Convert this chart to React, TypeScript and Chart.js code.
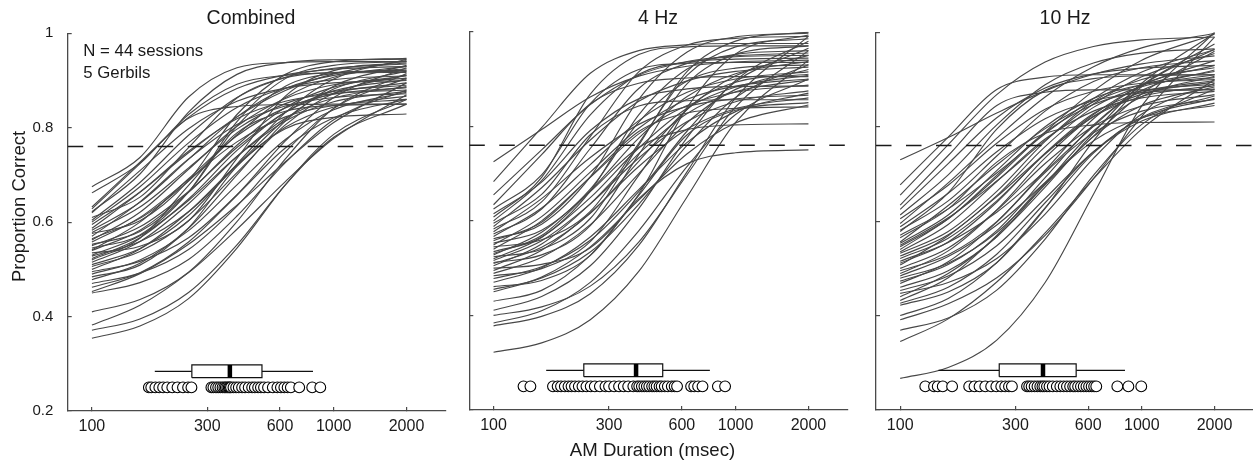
import React, { useEffect, useRef } from "react";
import { Chart, registerables } from "chart.js";

Chart.register(...registerables);

const FONT = "'Liberation Sans', Arial, Helvetica, sans-serif";
const TEXT_COLOR = "#1a1a1a";
const AXIS_COLOR = "#4a4a4a";
const CURVE_COLOR = "#484848";

// ---------- data ----------
const DURATIONS = [100, 158, 251, 398, 631, 1000, 2000]; // ms, sample points of each fitted curve
const X_TICKS = [100, 300, 600, 1000, 2000];
const Y_TICKS = [0.2, 0.4, 0.6, 0.8, 1];
const X_MIN = 79.4;
const X_MAX = 2900;
const Y_MIN = 0.2;
const Y_MAX = 1;
const CRITERION = 0.76;
const DOT_Y = 0.25;
const BOX_LO = 0.2705;
const BOX_HI = 0.2975;
const WHISKER_Y = 0.284;

const PANEL_TITLES = ["Combined", "4 Hz", "10 Hz"];
const X_TITLE = "AM Duration (msec)";
const Y_TITLE = "Proportion Correct";
const NOTE_LINES = ["N = 44 sessions", "5 Gerbils"];

// proportion correct at DURATIONS for each session
const COMBINED_CURVES = [
  [0.675, 0.737, 0.865, 0.927, 0.938, 0.94, 0.94],
  [0.662, 0.725, 0.828, 0.892, 0.911, 0.916, 0.917],
  [0.632, 0.727, 0.822, 0.883, 0.912, 0.924, 0.93],
  [0.628, 0.724, 0.82, 0.845, 0.849, 0.85, 0.85],
  [0.622, 0.702, 0.833, 0.913, 0.938, 0.944, 0.945],
  [0.62, 0.709, 0.798, 0.856, 0.884, 0.895, 0.9],
  [0.61, 0.653, 0.758, 0.863, 0.906, 0.917, 0.92],
  [0.604, 0.684, 0.784, 0.864, 0.907, 0.926, 0.935],
  [0.6, 0.675, 0.768, 0.843, 0.884, 0.902, 0.91],
  [0.595, 0.664, 0.75, 0.819, 0.856, 0.872, 0.88],
  [0.587, 0.663, 0.747, 0.823, 0.879, 0.914, 0.942],
  [0.583, 0.642, 0.733, 0.823, 0.883, 0.911, 0.925],
  [0.578, 0.632, 0.715, 0.797, 0.851, 0.877, 0.89],
  [0.576, 0.603, 0.688, 0.828, 0.913, 0.94, 0.947],
  [0.57, 0.643, 0.734, 0.807, 0.846, 0.864, 0.872],
  [0.565, 0.608, 0.687, 0.785, 0.864, 0.907, 0.93],
  [0.562, 0.621, 0.712, 0.803, 0.862, 0.891, 0.905],
  [0.558, 0.61, 0.69, 0.77, 0.823, 0.847, 0.86],
  [0.553, 0.58, 0.664, 0.804, 0.888, 0.915, 0.922],
  [0.55, 0.59, 0.665, 0.758, 0.833, 0.873, 0.895],
  [0.545, 0.573, 0.664, 0.813, 0.904, 0.932, 0.94],
  [0.541, 0.6, 0.692, 0.783, 0.842, 0.871, 0.885],
  [0.54, 0.583, 0.663, 0.763, 0.843, 0.886, 0.91],
  [0.535, 0.549, 0.603, 0.735, 0.867, 0.921, 0.937],
  [0.53, 0.571, 0.646, 0.739, 0.814, 0.855, 0.877],
  [0.528, 0.559, 0.622, 0.72, 0.818, 0.882, 0.92],
  [0.523, 0.567, 0.649, 0.752, 0.833, 0.878, 0.902],
  [0.52, 0.566, 0.678, 0.789, 0.835, 0.847, 0.85],
  [0.515, 0.559, 0.639, 0.739, 0.82, 0.863, 0.887],
  [0.51, 0.544, 0.614, 0.723, 0.832, 0.903, 0.945],
  [0.506, 0.538, 0.603, 0.705, 0.806, 0.873, 0.912],
  [0.5, 0.543, 0.622, 0.721, 0.801, 0.844, 0.867],
  [0.495, 0.517, 0.567, 0.658, 0.772, 0.864, 0.927],
  [0.49, 0.52, 0.582, 0.679, 0.775, 0.838, 0.875],
  [0.484, 0.509, 0.588, 0.718, 0.798, 0.822, 0.829],
  [0.478, 0.513, 0.587, 0.7, 0.814, 0.888, 0.932],
  [0.47, 0.492, 0.542, 0.634, 0.749, 0.841, 0.905],
  [0.462, 0.493, 0.558, 0.657, 0.757, 0.821, 0.86],
  [0.453, 0.491, 0.553, 0.636, 0.728, 0.811, 0.895],
  [0.45, 0.472, 0.521, 0.613, 0.726, 0.817, 0.88],
  [0.41, 0.436, 0.494, 0.601, 0.734, 0.841, 0.915],
  [0.382, 0.424, 0.493, 0.585, 0.686, 0.777, 0.87],
  [0.371, 0.395, 0.451, 0.552, 0.679, 0.78, 0.85],
  [0.354, 0.38, 0.438, 0.545, 0.679, 0.786, 0.86],
];

const HZ4_CURVES = [
  [0.725, 0.793, 0.862, 0.906, 0.927, 0.936, 0.94],
  [0.683, 0.797, 0.912, 0.96, 0.972, 0.975, 0.975],
  [0.655, 0.75, 0.846, 0.908, 0.937, 0.949, 0.955],
  [0.634, 0.74, 0.847, 0.891, 0.902, 0.905, 0.905],
  [0.625, 0.697, 0.848, 0.92, 0.933, 0.935, 0.935],
  [0.615, 0.682, 0.791, 0.858, 0.879, 0.884, 0.885],
  [0.608, 0.692, 0.868, 0.952, 0.968, 0.97, 0.97],
  [0.6, 0.685, 0.824, 0.91, 0.936, 0.942, 0.944],
  [0.595, 0.656, 0.782, 0.843, 0.854, 0.856, 0.856],
  [0.588, 0.67, 0.771, 0.853, 0.896, 0.916, 0.925],
  [0.583, 0.64, 0.778, 0.915, 0.972, 0.986, 0.99],
  [0.577, 0.647, 0.734, 0.804, 0.842, 0.858, 0.866],
  [0.572, 0.625, 0.753, 0.88, 0.933, 0.947, 0.95],
  [0.567, 0.627, 0.719, 0.812, 0.872, 0.9, 0.915],
  [0.562, 0.593, 0.693, 0.857, 0.957, 0.989, 0.997],
  [0.558, 0.597, 0.693, 0.789, 0.828, 0.838, 0.841],
  [0.553, 0.58, 0.667, 0.809, 0.896, 0.923, 0.93],
  [0.549, 0.609, 0.703, 0.796, 0.857, 0.885, 0.9],
  [0.545, 0.56, 0.62, 0.764, 0.908, 0.968, 0.985],
  [0.54, 0.6, 0.692, 0.784, 0.844, 0.872, 0.887],
  [0.535, 0.566, 0.663, 0.824, 0.921, 0.952, 0.96],
  [0.531, 0.569, 0.662, 0.755, 0.793, 0.803, 0.805],
  [0.528, 0.576, 0.664, 0.775, 0.863, 0.911, 0.937],
  [0.524, 0.54, 0.605, 0.76, 0.916, 0.98, 0.999],
  [0.52, 0.565, 0.649, 0.754, 0.838, 0.883, 0.908],
  [0.516, 0.558, 0.636, 0.733, 0.81, 0.852, 0.875],
  [0.512, 0.528, 0.59, 0.74, 0.89, 0.952, 0.97],
  [0.51, 0.544, 0.616, 0.726, 0.836, 0.907, 0.95],
  [0.505, 0.551, 0.636, 0.742, 0.827, 0.873, 0.898],
  [0.5, 0.508, 0.543, 0.656, 0.84, 0.953, 0.993],
  [0.495, 0.538, 0.617, 0.715, 0.794, 0.837, 0.86],
  [0.489, 0.523, 0.592, 0.7, 0.808, 0.878, 0.92],
  [0.484, 0.499, 0.556, 0.696, 0.836, 0.893, 0.91],
  [0.478, 0.503, 0.559, 0.662, 0.79, 0.894, 0.965],
  [0.47, 0.501, 0.566, 0.666, 0.766, 0.831, 0.87],
  [0.461, 0.474, 0.527, 0.654, 0.782, 0.834, 0.85],
  [0.455, 0.479, 0.534, 0.635, 0.76, 0.861, 0.93],
  [0.45, 0.481, 0.545, 0.644, 0.742, 0.807, 0.845],
  [0.43, 0.453, 0.527, 0.647, 0.721, 0.744, 0.75],
  [0.411, 0.44, 0.505, 0.626, 0.776, 0.897, 0.98],
  [0.4, 0.418, 0.462, 0.555, 0.698, 0.841, 0.96],
  [0.384, 0.41, 0.47, 0.579, 0.715, 0.825, 0.9],
  [0.378, 0.398, 0.446, 0.548, 0.704, 0.86, 0.99],
  [0.322, 0.342, 0.391, 0.493, 0.651, 0.808, 0.94],
];

const HZ10_CURVES = [
  [0.73, 0.777, 0.829, 0.876, 0.911, 0.933, 0.95],
  [0.677, 0.778, 0.879, 0.905, 0.91, 0.91, 0.91],
  [0.655, 0.762, 0.868, 0.937, 0.97, 0.984, 0.99],
  [0.634, 0.739, 0.845, 0.873, 0.878, 0.878, 0.878],
  [0.625, 0.722, 0.819, 0.882, 0.912, 0.924, 0.93],
  [0.613, 0.698, 0.804, 0.889, 0.935, 0.956, 0.965],
  [0.605, 0.676, 0.765, 0.837, 0.875, 0.892, 0.9],
  [0.595, 0.681, 0.776, 0.863, 0.927, 0.967, 0.998],
  [0.588, 0.659, 0.747, 0.817, 0.855, 0.872, 0.88],
  [0.581, 0.643, 0.738, 0.833, 0.896, 0.925, 0.94],
  [0.578, 0.66, 0.795, 0.877, 0.902, 0.908, 0.91],
  [0.57, 0.626, 0.702, 0.785, 0.86, 0.916, 0.963],
  [0.565, 0.626, 0.725, 0.786, 0.804, 0.809, 0.81],
  [0.556, 0.633, 0.719, 0.796, 0.853, 0.889, 0.917],
  [0.553, 0.613, 0.707, 0.8, 0.86, 0.889, 0.904],
  [0.549, 0.607, 0.685, 0.771, 0.848, 0.906, 0.955],
  [0.546, 0.605, 0.697, 0.788, 0.847, 0.876, 0.89],
  [0.54, 0.605, 0.693, 0.789, 0.876, 0.941, 0.996],
  [0.535, 0.593, 0.684, 0.774, 0.833, 0.861, 0.875],
  [0.532, 0.578, 0.663, 0.769, 0.854, 0.9, 0.925],
  [0.526, 0.571, 0.654, 0.758, 0.841, 0.885, 0.91],
  [0.521, 0.564, 0.643, 0.742, 0.821, 0.864, 0.887],
  [0.515, 0.555, 0.619, 0.706, 0.801, 0.888, 0.975],
  [0.511, 0.556, 0.64, 0.744, 0.828, 0.873, 0.898],
  [0.507, 0.569, 0.652, 0.743, 0.826, 0.888, 0.94],
  [0.5, 0.543, 0.623, 0.722, 0.801, 0.844, 0.868],
  [0.495, 0.529, 0.599, 0.708, 0.817, 0.888, 0.93],
  [0.489, 0.537, 0.624, 0.734, 0.822, 0.869, 0.895],
  [0.484, 0.525, 0.592, 0.682, 0.78, 0.87, 0.96],
  [0.479, 0.511, 0.576, 0.677, 0.779, 0.845, 0.884],
  [0.473, 0.508, 0.58, 0.692, 0.804, 0.877, 0.92],
  [0.468, 0.514, 0.598, 0.703, 0.787, 0.833, 0.858],
  [0.46, 0.495, 0.567, 0.679, 0.791, 0.864, 0.907],
  [0.453, 0.484, 0.548, 0.648, 0.747, 0.812, 0.85],
  [0.447, 0.47, 0.521, 0.615, 0.733, 0.827, 0.892],
  [0.44, 0.489, 0.567, 0.672, 0.787, 0.892, 0.998],
  [0.432, 0.48, 0.57, 0.681, 0.77, 0.819, 0.845],
  [0.426, 0.46, 0.53, 0.639, 0.747, 0.818, 0.86],
  [0.422, 0.45, 0.512, 0.627, 0.77, 0.885, 0.964],
  [0.4, 0.436, 0.512, 0.628, 0.744, 0.82, 0.865],
  [0.391, 0.425, 0.48, 0.57, 0.69, 0.822, 0.99],
  [0.369, 0.395, 0.454, 0.562, 0.697, 0.805, 0.88],
  [0.345, 0.393, 0.471, 0.575, 0.69, 0.795, 0.9],
  [0.267, 0.29, 0.348, 0.47, 0.657, 0.844, 1.0],
];

// threshold durations (ms) of each session
const COMBINED_THRESHOLDS = [
  172, 176, 183, 190, 197, 205, 215, 226, 238, 250, 258,
  312, 318, 326, 333, 340, 347, 353, 358, 363, 368, 372,
  376, 385, 395, 405, 418, 430, 445, 460, 472, 487, 500,
  515, 535, 560, 585, 605, 625, 645, 665, 720, 815, 880,
];
const HZ4_THRESHOLDS = [
  133, 142, 176, 184, 190, 197, 204, 210, 217, 225, 233,
  242, 252, 262, 275, 290, 300, 315, 330, 345, 360, 378,
  392, 400, 410, 420, 430, 440, 452, 462, 472, 485, 495,
  510, 525, 545, 560, 573, 655, 675, 700, 730, 845, 905,
];
const HZ10_THRESHOLDS = [
  127, 138, 143, 150, 164, 193, 203, 213, 225, 238, 250,
  262, 272, 282, 290, 335, 342, 350, 360, 370, 380, 388,
  395, 405, 415, 428, 445, 460, 475, 490, 505, 520, 530,
  545, 560, 575, 590, 605, 620, 635, 648, 792, 880, 995,
];

// whisker low, Q1, median, Q3, whisker high (ms)
const COMBINED_BOX = [182, 259, 372, 505, 821];
const HZ4_BOX = [165, 236, 388, 500, 783];
const HZ10_BOX = [144, 257, 390, 535, 852];

// ---------- layout (pixels) ----------
const CHART_W = 378.2;
const PANELS = [
  { curves: COMBINED_CURVES, thresholds: COMBINED_THRESHOLDS, box: COMBINED_BOX, left: 0, width: 452, axisW: 67.7, top: 33.3, bottom: 411, titleX: 251, yLabels: true },
  { curves: HZ4_CURVES, thresholds: HZ4_THRESHOLDS, box: HZ4_BOX, left: 452, width: 402, axisW: 17.3, top: 31.7, bottom: 410, titleX: 206, yLabels: false },
  { curves: HZ10_CURVES, thresholds: HZ10_THRESHOLDS, box: HZ10_BOX, left: 854, width: 406, axisW: 22, top: 32.3, bottom: 410, titleX: 211, yLabels: false },
];

type TextItem = { text: string; x: number; y: number; size: number; align: CanvasTextAlign; rotate?: number };

function makeTextPlugin(items: TextItem[]) {
  return {
    id: "panelText",
    afterDraw(chart: any) {
      const ctx: CanvasRenderingContext2D = chart.ctx;
      for (const t of items) {
        ctx.save();
        ctx.font = `${t.size}px ${FONT}`;
        ctx.fillStyle = TEXT_COLOR;
        ctx.textAlign = t.align;
        ctx.textBaseline = "alphabetic";
        ctx.translate(t.x, t.y);
        if (t.rotate) ctx.rotate(t.rotate);
        ctx.fillText(t.text, 0, 0);
        ctx.restore();
      }
    },
  };
}

function buildDatasets(curves: number[][], thresholds: number[], box: number[]) {
  const ds: any[] = [];
  ds.push({
    label: "median",
    data: [{ x: box[2], y: BOX_LO }, { x: box[2], y: BOX_HI }],
    borderColor: "#000",
    borderWidth: 4.5,
    pointRadius: 0,
    fill: false,
  });
  ds.push({
    label: "box",
    data: [
      { x: box[1], y: BOX_LO },
      { x: box[3], y: BOX_LO },
      { x: box[3], y: BOX_HI },
      { x: box[1], y: BOX_HI },
      { x: box[1], y: BOX_LO },
    ],
    borderColor: "#111",
    borderWidth: 1.2,
    backgroundColor: "#fff",
    fill: "shape",
    pointRadius: 0,
  });
  ds.push({
    label: "whisker-low",
    data: [{ x: box[0], y: WHISKER_Y }, { x: box[1], y: WHISKER_Y }],
    borderColor: "#111",
    borderWidth: 1.2,
    pointRadius: 0,
    fill: false,
  });
  ds.push({
    label: "whisker-high",
    data: [{ x: box[3], y: WHISKER_Y }, { x: box[4], y: WHISKER_Y }],
    borderColor: "#111",
    borderWidth: 1.2,
    pointRadius: 0,
    fill: false,
  });
  ds.push({
    label: "thresholds",
    data: thresholds.map((t) => ({ x: t, y: DOT_Y })),
    showLine: false,
    pointRadius: 5.4,
    pointBackgroundColor: "#fff",
    pointBorderColor: "#000",
    pointBorderWidth: 1.1,
    fill: false,
  });
  ds.push({
    label: "criterion",
    data: [{ x: X_MIN, y: CRITERION }, { x: X_MAX, y: CRITERION }],
    borderColor: "#1a1a1a",
    borderWidth: 1.5,
    borderDash: [15.5, 14.5],
    pointRadius: 0,
    fill: false,
  });
  curves.forEach((row, i) => {
    ds.push({
      label: `session ${i + 1}`,
      data: DURATIONS.map((d, j) => ({ x: d, y: row[j] })),
      borderColor: CURVE_COLOR,
      borderWidth: 1.15,
      pointRadius: 0,
      cubicInterpolationMode: "monotone",
      fill: false,
    });
  });
  return ds;
}

function Panel({ index }: { index: number }) {
  const ref = useRef<HTMLCanvasElement | null>(null);
  const p = PANELS[index];
  useEffect(() => {
    if (!ref.current) return;
    const texts: TextItem[] = [
      { text: PANEL_TITLES[index], x: p.titleX, y: 24, size: 19.5, align: "center" },
    ];
    if (index === 0) {
      texts.push({ text: NOTE_LINES[0], x: 83.3, y: 56, size: 16.8, align: "left" });
      texts.push({ text: NOTE_LINES[1], x: 83.3, y: 77.5, size: 16.8, align: "left" });
      texts.push({ text: Y_TITLE, x: 25, y: 206.5, size: 18.5, align: "center", rotate: -Math.PI / 2 });
    }
    if (index === 1) {
      texts.push({ text: X_TITLE, x: 652.5 - p.left, y: 456, size: 18.6, align: "center" });
    }
    const chart = new Chart(ref.current, {
      type: "line",
      data: { datasets: buildDatasets(p.curves, p.thresholds, p.box) },
      options: {
        responsive: false,
        maintainAspectRatio: false,
        animation: false,
        events: [],
        layout: { padding: { left: 0, right: p.width - p.axisW - CHART_W, top: p.top, bottom: 0 } },
        plugins: {
          legend: { display: false },
          tooltip: { enabled: false },
          title: { display: false },
        },
        scales: {
          x: {
            type: "logarithmic",
            min: X_MIN,
            max: X_MAX,
            afterBuildTicks: (scale: any) => {
              scale.ticks = X_TICKS.map((v) => ({ value: v }));
            },
            afterFit: (scale: any) => {
              scale.height = 462 - p.bottom;
            },
            ticks: {
              autoSkip: false,
              maxRotation: 0,
              padding: 10,
              color: TEXT_COLOR,
              font: { family: FONT, size: 16 },
              callback: (v: any) => String(v),
            },
            grid: { drawOnChartArea: false, drawTicks: true, tickLength: -4, color: AXIS_COLOR, lineWidth: 1.2 },
            border: { display: true, color: AXIS_COLOR, width: 1.3 },
          },
          y: {
            type: "linear",
            min: Y_MIN,
            max: Y_MAX,
            afterBuildTicks: (scale: any) => {
              scale.ticks = Y_TICKS.map((v) => ({ value: v }));
            },
            afterFit: (scale: any) => {
              scale.width = p.axisW;
            },
            ticks: {
              display: p.yLabels,
              padding: 18.4,
              color: TEXT_COLOR,
              font: { family: FONT, size: 15 },
              callback: (v: any) => (Math.abs(v - 1) < 1e-9 ? "1" : (Math.round(v * 10) / 10).toFixed(1)),
            },
            grid: { drawOnChartArea: false, drawTicks: true, tickLength: -4, color: AXIS_COLOR, lineWidth: 1.2 },
            border: { display: true, color: AXIS_COLOR, width: 1.3 },
          },
        },
      },
      plugins: [makeTextPlugin(texts)],
    } as any);
    return () => chart.destroy();
  }, [index]);
  return (
    <canvas
      ref={ref}
      width={p.width}
      height={462}
      style={{ position: "absolute", left: p.left, top: 0, width: p.width, height: 462 }}
    />
  );
}

export default function App() {
  return (
    <div
      style={{
        position: "fixed",
        left: 0,
        top: 0,
        width: 1253,
        height: 462,
        overflow: "hidden",
        background: "#fff",
      }}
    >
      <Panel index={0} />
      <Panel index={1} />
      <Panel index={2} />
    </div>
  );
}
